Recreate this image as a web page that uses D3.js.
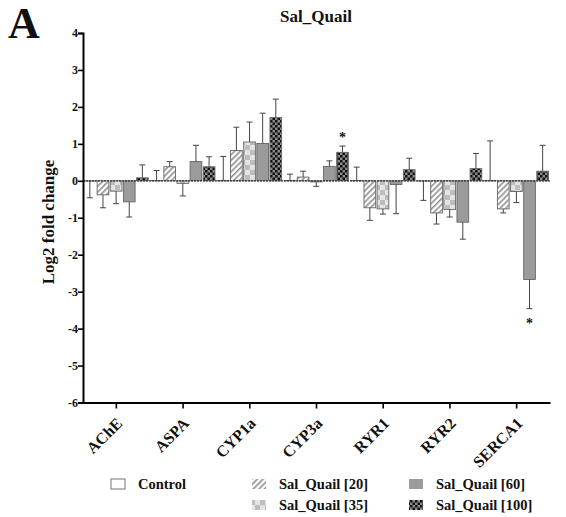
<!DOCTYPE html>
<html>
<head>
<meta charset="utf-8">
<script src="https://cdn.jsdelivr.net/npm/d3@7"></script>
<style>
  html, body { margin: 0; padding: 0; background: #fff; }
  svg { display: block; }
  text { font-family: "Liberation Serif", "Times New Roman", serif; font-weight: bold; fill: #111; }
</style>
</head>
<body>
<svg id="chart" width="566" height="517"></svg>
<script>
// Genes on the x axis
const genes = ["AChE", "ASPA", "CYP1a", "CYP3a", "RYR1", "RYR2", "SERCA1"];
// Treatment groups (legend order)
const groups = ["Control", "Sal_Quail [20]", "Sal_Quail [35]", "Sal_Quail [60]", "Sal_Quail [100]"];

// Mean log2 fold change per group, one value per gene
const control  = [-0.01,  0.01,  0.01,  0.01,  0.01, -0.01,  0.01];
const sq20     = [-0.38,  0.38,  0.82,  0.10, -0.73, -0.87, -0.76];
const sq35     = [-0.28, -0.07,  1.05, -0.03, -0.76, -0.78, -0.29];
const sq60     = [-0.57,  0.52,  1.01,  0.39, -0.10, -1.12, -2.67];
const sq100    = [ 0.08,  0.38,  1.71,  0.77,  0.30,  0.33,  0.26];

// Error bar lengths (SEM), drawn away from zero
const controlErr = [0.45, 0.27, 0.65, 0.17, 0.36, 0.52, 1.07];
const sq20Err    = [0.35, 0.14, 0.63, 0.16, 0.34, 0.30, 0.11];
const sq35Err    = [0.34, 0.34, 0.54, 0.12, 0.14, 0.20, 0.30];
const sq60Err    = [0.41, 0.44, 0.82, 0.15, 0.79, 0.46, 0.79];
const sq100Err   = [0.35, 0.27, 0.50, 0.17, 0.31, 0.41, 0.70];

// Significance marks: [gene, group]
const stars = [["CYP3a", "Sal_Quail [100]"], ["SERCA1", "Sal_Quail [60]"]];

const yTicks = [4, 3, 2, 1, 0, -1, -2, -3, -4, -5, -6];

const seriesValues = [control, sq20, sq35, sq60, sq100];
const seriesErrors = [controlErr, sq20Err, sq35Err, sq60Err, sq100Err];

const svg = d3.select("#chart");
const defs = svg.append("defs");

// Fill patterns
const hatch = defs.append("pattern").attr("id", "p20")
  .attr("patternUnits", "userSpaceOnUse").attr("width", 4).attr("height", 4)
  .attr("patternTransform", "rotate(45)");
hatch.append("rect").attr("width", 4).attr("height", 4).attr("fill", "#fff");
hatch.append("rect").attr("width", 1.6).attr("height", 4).attr("fill", "#8f8f8f");

const chk35 = defs.append("pattern").attr("id", "p35")
  .attr("patternUnits", "userSpaceOnUse").attr("width", 10).attr("height", 10);
chk35.append("rect").attr("width", 10).attr("height", 10).attr("fill", "#e4e4e4");
chk35.append("rect").attr("width", 5).attr("height", 5).attr("fill", "#bdbdbd");
chk35.append("rect").attr("x", 5).attr("y", 5).attr("width", 5).attr("height", 5).attr("fill", "#bdbdbd");

const chk100 = defs.append("pattern").attr("id", "p100")
  .attr("patternUnits", "userSpaceOnUse").attr("width", 5).attr("height", 5);
chk100.append("rect").attr("width", 5).attr("height", 5).attr("fill", "#8a8a8a");
chk100.append("rect").attr("width", 2.5).attr("height", 2.5).attr("fill", "#111");
chk100.append("rect").attr("x", 2.5).attr("y", 2.5).attr("width", 2.5).attr("height", 2.5).attr("fill", "#111");

const fills = ["#fff", "url(#p20)", "url(#p35)", "#9b9b9b", "url(#p100)"];

// Scales
const x0 = d3.scaleBand().domain(genes).range([83, 550]).padding(0);
const x1 = d3.scaleBand().domain(groups).range([1, x0.bandwidth() - 1.5]).paddingInner(0.11);
const y = d3.scaleLinear().domain([-6, 4]).range([402.5, 33]);

// Bars
const barData = [];
genes.forEach((g, gi) => {
  groups.forEach((s, si) => {
    barData.push({ gene: g, group: s, si, v: seriesValues[si][gi], e: seriesErrors[si][gi] });
  });
});

const bars = svg.append("g");
bars.selectAll("rect").data(barData).join("rect")
  .attr("x", d => x0(d.gene) + x1(d.group))
  .attr("width", x1.bandwidth())
  .attr("y", d => y(Math.max(0, d.v)))
  .attr("height", d => Math.abs(y(d.v) - y(0)))
  .attr("fill", d => fills[d.si])
  .attr("stroke", "#666")
  .attr("stroke-width", 0.9);

// Error bars (one-sided, away from zero)
const errG = svg.append("g").attr("stroke", "#444").attr("stroke-width", 1).attr("fill", "none");
barData.forEach(d => {
  const cx = x0(d.gene) + x1(d.group) + x1.bandwidth() / 2;
  const dir = d.v >= 0 ? 1 : -1;
  const tip = d.v + dir * d.e;
  errG.append("line").attr("x1", cx).attr("x2", cx).attr("y1", y(d.v)).attr("y2", y(tip));
  errG.append("line").attr("x1", cx - 3).attr("x2", cx + 3).attr("y1", y(tip)).attr("y2", y(tip));
});

// Significance stars
stars.forEach(([g, s]) => {
  const gi = genes.indexOf(g), si = groups.indexOf(s);
  const v = seriesValues[si][gi], e = seriesErrors[si][gi];
  const dir = v >= 0 ? 1 : -1;
  const cx = x0(g) + x1(s) + x1.bandwidth() / 2;
  const ty = y(v + dir * e) + (dir > 0 ? -4 : 19);
  svg.append("text").attr("x", cx).attr("y", ty)
    .attr("text-anchor", "middle").style("font-size", "14px").text("*");
});

// Zero line
svg.append("line")
  .attr("x1", 83).attr("x2", 550).attr("y1", y(0)).attr("y2", y(0))
  .attr("stroke", "#333").attr("stroke-width", 1.2).attr("stroke-dasharray", "2,1");

// Y axis
const yAxis = svg.append("g").attr("transform", "translate(83,0)")
  .call(d3.axisLeft(y).tickValues(yTicks).tickSize(5).tickFormat(d => String(d)));
yAxis.select(".domain").attr("stroke", "#000").attr("stroke-width", 2);
yAxis.selectAll(".tick line").attr("stroke", "#000").attr("stroke-width", 1.6);
yAxis.selectAll(".tick text").attr("x", -5).style("font-size", "12px")
  .style("font-family", "Liberation Serif").style("font-weight", "bold").attr("fill", "#111");

// X axis
const xAxis = svg.append("g").attr("transform", `translate(0,${y(-6)})`)
  .call(d3.axisBottom(x0).tickSize(6).tickSizeOuter(0));
xAxis.select(".domain").attr("stroke", "#000").attr("stroke-width", 2);
xAxis.selectAll(".tick line").attr("stroke", "#000").attr("stroke-width", 1.6);
xAxis.selectAll(".tick text")
  .style("font-size", "16px").style("font-family", "Liberation Serif").style("font-weight", "bold")
  .attr("fill", "#111")
  .attr("text-anchor", "end")
  .attr("x", 0).attr("y", 0).attr("dy", "0.7em")
  .attr("transform", "translate(-1,14) rotate(-45)");

// Title, panel letter, axis label
svg.append("text").attr("x", 316).attr("y", 22).attr("text-anchor", "middle")
  .style("font-size", "17px").text("Sal_Quail");
svg.append("text").attr("x", 8).attr("y", 38)
  .style("font-size", "44px").text("A");
svg.append("text").attr("transform", "translate(54,222) rotate(-90)")
  .attr("text-anchor", "middle").style("font-size", "17px").text("Log2 fold change");

// Legend
const legendPos = [
  [111, 479], [252, 479], [252, 500], [409, 479], [409, 500]
];
const legend = svg.append("g");
groups.forEach((s, si) => {
  const [lx, ly] = legendPos[si];
  legend.append("rect").attr("x", lx).attr("y", ly).attr("width", 14).attr("height", 10)
    .attr("fill", fills[si]).attr("stroke", si === 0 ? "#666" : "none").attr("stroke-width", 0.9);
  legend.append("text").attr("x", lx + 27).attr("y", ly + 10)
    .style("font-size", "14.5px").text(s);
});
</script>
</body>
</html>
